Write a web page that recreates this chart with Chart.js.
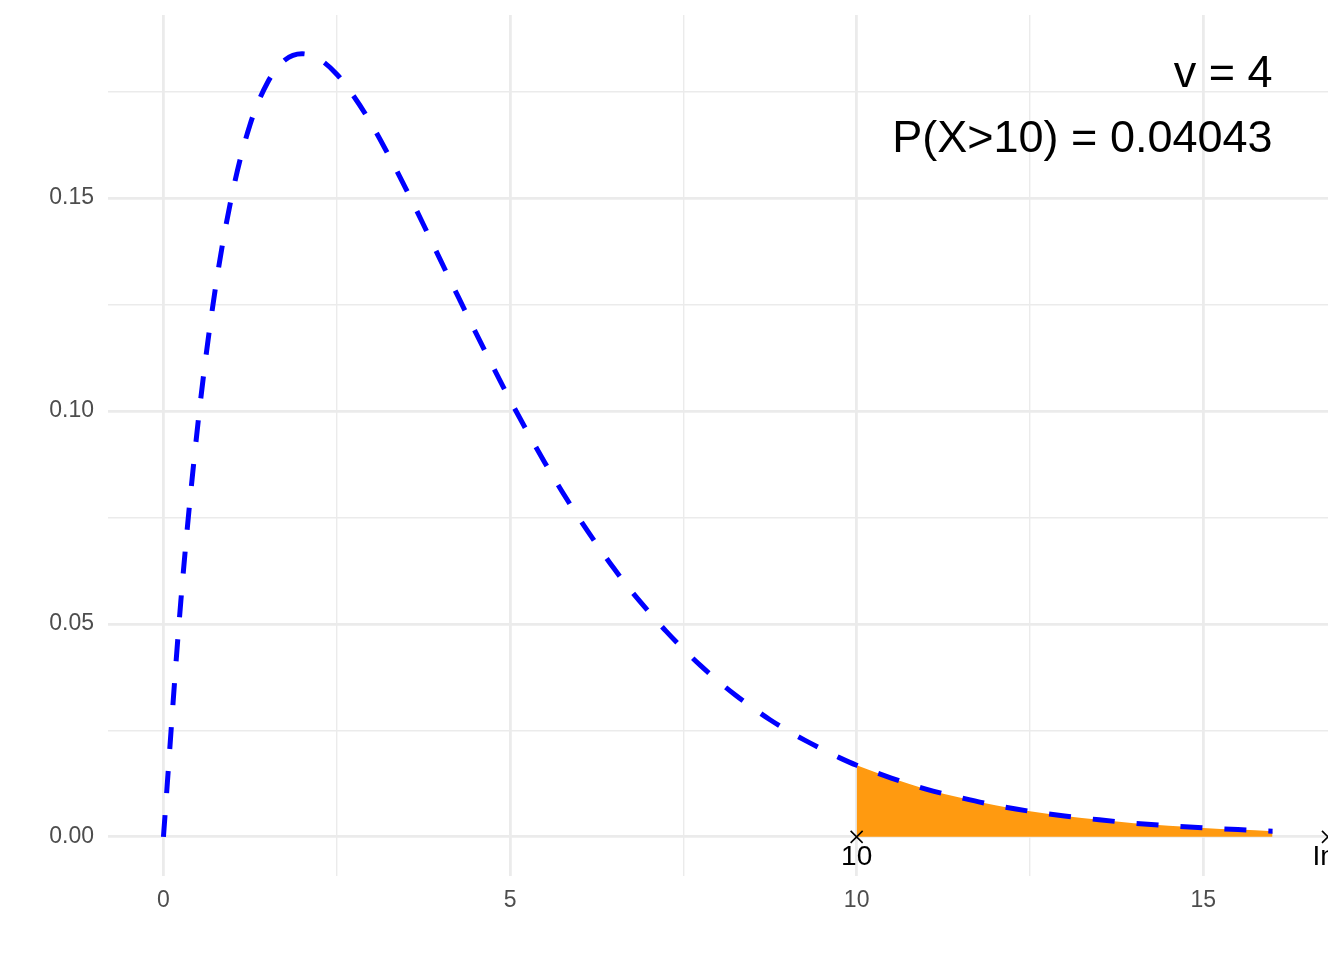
<!DOCTYPE html>
<html>
<head>
<meta charset="utf-8">
<script src="https://cdn.jsdelivr.net/npm/chart.js@4.4.1/dist/chart.umd.min.js"></script>
<style>
  body { margin: 0; background: #fff; }
  #wrap { width: 1344px; height: 960px; }
</style>
</head>
<body>
<div id="wrap"><canvas id="chart" width="1344" height="960"></canvas></div>
<script>
// Chi-square density, v = 4
const xs = [0, 0.25, 0.5, 0.75, 1, 1.25, 1.5, 1.75, 2, 2.25, 2.5, 2.75, 3, 3.25, 3.5, 3.75,
  4, 4.25, 4.5, 4.75, 5, 5.25, 5.5, 5.75, 6, 6.25, 6.5, 6.75, 7, 7.25, 7.5, 7.75,
  8, 8.25, 8.5, 8.75, 9, 9.25, 9.5, 9.75, 10, 10.5, 11, 11.5, 12, 12.5, 13, 13.5,
  14, 14.5, 15, 15.5, 16];
const density = [0, 0.0552, 0.0974, 0.1289, 0.1516, 0.1673, 0.1771, 0.1824, 0.1839, 0.1826, 0.1791, 0.1738, 0.1674, 0.1600, 0.1521, 0.1438,
  0.1353, 0.1269, 0.1186, 0.1105, 0.1026, 0.0951, 0.0879, 0.0811, 0.0747, 0.0687, 0.0630, 0.0577, 0.0529, 0.0483, 0.0441, 0.0402,
  0.0366, 0.0333, 0.0303, 0.0275, 0.0250, 0.0227, 0.0206, 0.0186, 0.0168, 0.0138, 0.0112, 0.0092, 0.0074, 0.0060, 0.0049, 0.0040,
  0.0032, 0.0026, 0.0021, 0.0017, 0.0013];

const cutoff = 10;
const xMin = -0.8, xMax = 16.8;
const yMin = -0.0092, yMax = 0.193;
const xTicks = [0, 2.5, 5, 7.5, 10, 12.5, 15];
const yTicks = [0, 0.025, 0.05, 0.075, 0.1, 0.125, 0.15, 0.175];
const markerX = [cutoff, xMax];
const markerLabels = ['10', 'Inf'];
const noteLines = ['v = 4', 'P(X>10) = 0.04043'];
const noteY = [0.1761, 0.1608];

const FONT = '"Liberation Sans", Arial, Helvetica, sans-serif';

const curve = xs.map((x, i) => ({ x: x, y: density[i] }));
const tail = curve.filter(p => p.x >= cutoff);
const markers = markerX.map(x => ({ x: x, y: 0 }));

const gridWidth = ctx => (ctx.tick && ctx.tick.value % 5 === 0) ? 2.8 : 1.4;
const gridWidthY = ctx => (ctx.tick && Math.round(ctx.tick.value * 1000) % 50 === 0) ? 2.8 : 1.4;

const textPlugin = {
  id: 'texts',
  afterDatasetsDraw(chart) {
    const c = chart.ctx;
    const a = chart.chartArea;
    const xs_ = chart.scales.x, ys_ = chart.scales.y;
    c.save();
    c.beginPath();
    c.rect(a.left, a.top, a.right - a.left, a.bottom - a.top);
    c.clip();
    c.fillStyle = '#000';
    c.textAlign = 'center';
    c.textBaseline = 'middle';
    c.font = '28px ' + FONT;
    markerX.forEach((x, i) => {
      c.fillText(markerLabels[i], xs_.getPixelForValue(x), ys_.getPixelForValue(0) + 20);
    });
    c.font = '45px ' + FONT;
    c.textAlign = 'right';
    c.textBaseline = 'alphabetic';
    noteLines.forEach((t, i) => {
      c.fillText(t, xs_.getPixelForValue(16), ys_.getPixelForValue(noteY[i]));
    });
    c.restore();
  }
};

new Chart(document.getElementById('chart').getContext('2d'), {
  type: 'line',
  data: {
    datasets: [
      {
        data: markers,
        showLine: false,
        pointStyle: 'crossRot',
        pointRadius: 8.5,
        pointBorderColor: '#000',
        pointBorderWidth: 1.6,
        order: 0
      },
      {
        data: curve,
        borderColor: '#0000FF',
        borderWidth: 5,
        borderDash: [22, 22],
        borderCapStyle: 'butt',
        pointRadius: 0,
        cubicInterpolationMode: 'monotone',
        fill: false,
        order: 1
      },
      {
        data: tail,
        borderWidth: 0,
        pointRadius: 0,
        backgroundColor: '#FF9A10',
        cubicInterpolationMode: 'monotone',
        fill: 'origin',
        order: 2
      }
    ]
  },
  options: {
    responsive: false,
    animation: false,
    layout: { padding: { left: 0, right: 16, top: 15, bottom: 0 } },
    plugins: { legend: { display: false }, tooltip: { enabled: false } },
    scales: {
      x: {
        type: 'linear',
        min: xMin,
        max: xMax,
        afterBuildTicks: s => { s.ticks = xTicks.map(v => ({ value: v })); },
        afterFit: s => { s.height = 84; s.paddingLeft = 0; s.paddingRight = 0; },
        border: { display: false },
        grid: { color: '#EBEBEB', lineWidth: gridWidth, drawTicks: false },
        ticks: {
          autoSkip: false,
          maxRotation: 0,
          padding: 11,
          color: '#4D4D4D',
          font: { family: FONT, size: 23 },
          callback: v => (v % 5 === 0 ? String(v) : '')
        }
      },
      y: {
        type: 'linear',
        min: yMin,
        max: yMax,
        afterBuildTicks: s => { s.ticks = yTicks.map(v => ({ value: v })); },
        afterFit: s => { s.width = 108; s.paddingTop = 0; s.paddingBottom = 0; },
        border: { display: false },
        grid: { color: '#EBEBEB', lineWidth: gridWidthY, drawTicks: false },
        ticks: {
          autoSkip: false,
          padding: 14,
          color: '#4D4D4D',
          font: { family: FONT, size: 23 },
          callback: v => (Math.round(v * 1000) % 50 === 0 ? v.toFixed(2) : '')
        }
      }
    }
  },
  plugins: [textPlugin]
});
</script>
</body>
</html>
